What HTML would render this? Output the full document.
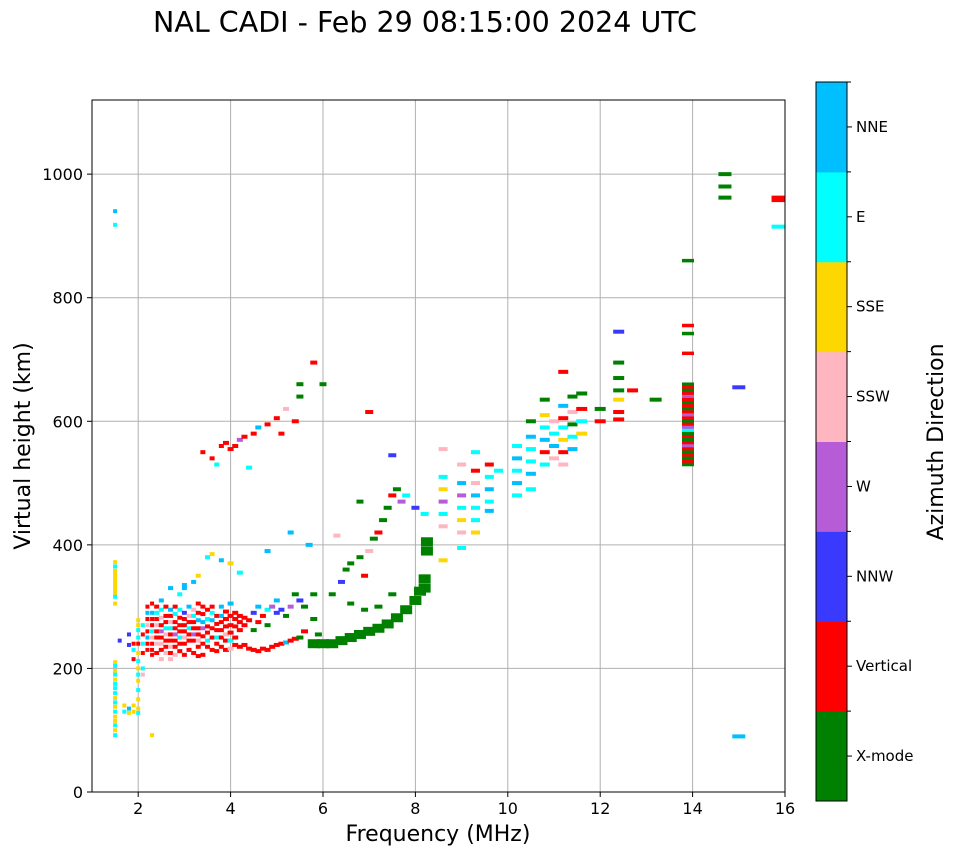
<!DOCTYPE html>
<html><head><meta charset="utf-8"><style>
body{margin:0;background:#fff;}
svg text{font-family:"DejaVu Sans","Liberation Sans",sans-serif;}
</style></head><body>
<svg id="chart" width="958" height="857" xmlns="http://www.w3.org/2000/svg">
<text x="425" y="32" font-size="28.5" text-anchor="middle">NAL CADI - Feb 29 08:15:00 2024 UTC</text>
<g id="grid"></g>
<g id="marks"></g>
<rect x="92" y="100" width="693" height="692" fill="none" stroke="#000" stroke-width="1"/>
<g id="axes"></g>
<text x="438" y="841" font-size="22" text-anchor="middle">Frequency (MHz)</text>
<text transform="translate(30,446) rotate(-90)" font-size="22" text-anchor="middle">Virtual height (km)</text>
<g id="cbar"></g>
<text transform="translate(943,442) rotate(-90)" font-size="22" text-anchor="middle">Azimuth Direction</text>
</svg>
<script>
const categories=["X-mode","Vertical","NNW","W","SSW","SSE","E","NNE"];
const catColors=["#008000","#ff0000","#3a3aff","#b65cd6","#ffb6c1","#ffd700","#00ffff","#00bfff"];
const xTicks=[2,4,6,8,10,12,14,16];
const yTicks=[0,200,400,600,800,1000];
// [freq MHz, height km, direction index, thick-trace flag]
const echoes=[
[1.5,940,7],[1.5,918,6],[1.5,372,5],[1.5,365,6],[1.5,358,5],[1.5,352,5],[1.5,346,5],[1.5,340,5],[1.5,334,5],[1.5,328,5],[1.5,322,5],[1.5,316,6],[1.5,305,5],
[1.5,210,5],[1.5,204,6],[1.5,196,5],[1.5,190,6],[1.5,182,5],[1.5,175,6],[1.5,168,6],[1.5,160,6],[1.5,152,5],[1.5,145,6],[1.5,138,5],[1.5,130,6],[1.5,122,5],[1.5,115,5],[1.5,108,6],[1.5,100,5],[1.5,92,6],
[1.6,245,2],[1.7,140,5],[1.7,130,6],[1.8,135,7],[1.8,128,5],[1.9,140,5],[1.9,130,5],[1.8,255,2],[1.8,238,2],[1.9,240,1],[1.9,230,6],[1.9,215,1],
[2.0,278,5],[2.0,270,5],[2.0,262,6],[2.0,250,6],[2.0,240,1],[2.0,225,5],[2.0,212,6],[2.0,200,5],[2.0,190,6],[2.0,180,5],[2.0,165,6],[2.0,150,5],[2.0,135,5],[2.0,128,6],
[2.1,270,6],[2.1,255,1],[2.1,240,6],[2.1,225,1],[2.1,190,4],[2.1,200,6],[2.3,92,5],
[2.2,300,1],[2.2,290,7],[2.2,280,1],[2.2,270,4],[2.2,260,1],[2.2,250,7],[2.2,240,1],[2.2,230,1],
[2.3,305,1],[2.3,290,7],[2.3,280,1],[2.3,270,1],[2.3,260,6],[2.3,250,4],[2.3,240,1],[2.3,230,1],[2.3,222,1],
[2.4,300,1],[2.4,290,6],[2.4,280,1],[2.4,270,4],[2.4,260,1],[2.4,250,1],[2.4,240,4],[2.4,225,1],
[2.5,310,7],[2.5,295,6],[2.5,282,4],[2.5,270,1],[2.5,260,3],[2.5,250,1],[2.5,240,4],[2.5,230,1],[2.5,215,4],
[2.6,300,1],[2.6,285,1],[2.6,275,1],[2.6,265,6],[2.6,255,4],[2.6,245,1],[2.6,235,1],[2.6,225,4],
[2.7,295,7],[2.7,285,1],[2.7,275,4],[2.7,265,6],[2.7,255,1],[2.7,245,1],[2.7,235,4],[2.7,225,1],[2.7,215,4],
[2.8,300,1],[2.8,288,6],[2.8,275,1],[2.8,265,1],[2.8,255,3],[2.8,245,1],[2.8,235,1],[2.8,222,4],
[2.9,295,6],[2.9,282,1],[2.9,270,1],[2.9,260,1],[2.9,250,6],[2.9,240,1],[2.9,228,1],
[3.0,330,7],[3.0,290,2],[3.0,280,1],[3.0,270,1],[3.0,260,1],[3.0,250,4],[3.0,240,1],[3.0,222,1],
[3.1,300,7],[3.1,285,4],[3.1,275,1],[3.1,265,6],[3.1,255,1],[3.1,245,1],[3.1,230,1],
[3.2,295,4],[3.2,285,6],[3.2,275,1],[3.2,265,1],[3.2,255,3],[3.2,245,1],[3.2,225,1],
[3.3,305,1],[3.3,290,1],[3.3,278,7],[3.3,265,1],[3.3,255,1],[3.3,245,4],[3.3,235,1],[3.3,220,1],
[3.4,300,1],[3.4,288,1],[3.4,275,7],[3.4,265,3],[3.4,252,1],[3.4,240,1],[3.4,222,1],
[3.5,295,1],[3.5,280,6],[3.5,268,1],[3.5,258,1],[3.5,245,6],[3.5,235,1],
[3.6,300,1],[3.6,290,6],[3.6,278,7],[3.6,265,1],[3.6,250,1],[3.6,230,1],
[3.7,285,1],[3.7,272,1],[3.7,262,1],[3.7,250,6],[3.7,240,1],[3.7,228,1],
[3.8,300,7],[3.8,285,7],[3.8,275,1],[3.8,262,1],[3.8,250,1],[3.8,235,1],
[3.9,292,1],[3.9,280,1],[3.9,268,1],[3.9,255,4],[3.9,245,1],[3.9,230,1],
[4.0,305,7],[4.0,285,1],[4.0,270,1],[4.0,258,1],[4.0,245,6],[4.0,232,4],
[4.1,290,1],[4.1,280,1],[4.1,268,1],[4.1,250,1],[4.1,238,1],[4.2,285,1],[4.2,275,1],[4.2,262,1],[4.2,235,1],[4.3,282,1],[4.3,270,1],[4.3,238,1],[4.4,278,1],[4.4,232,1],
[4.5,290,2],[4.5,262,0],[4.5,230,1],[4.6,300,7],[4.6,275,1],[4.6,228,1],[4.7,285,1],[4.7,232,1],[4.8,295,6],[4.8,270,0],[4.8,230,1],[4.9,300,3],[4.9,235,1],
[5.0,310,7],[5.0,290,2],[5.0,238,1],[5.1,295,2],[5.1,240,1],[5.2,285,0],[5.2,242,7],[5.3,300,3],[5.3,245,1],
[5.4,320,0],[5.4,248,1],[5.5,310,2],[5.5,250,0],[5.6,300,0],[5.6,260,1],[5.8,320,0],[5.8,280,0],[5.9,255,0],
[3.0,335,7],[3.2,340,7],[3.3,350,5],[3.5,380,6],[3.6,385,5],[3.8,375,7],[4.0,370,5],[4.2,355,6],[2.7,330,7],[2.9,320,6],
[3.4,550,1],[3.6,540,1],[3.7,530,6],[3.8,560,1],[3.9,565,1],[4.0,555,1],[4.1,560,1],[4.2,570,3],[4.3,575,1],[4.4,525,6],[4.5,580,1],[4.6,590,7],[4.8,595,1],[5.0,605,1],[5.1,580,1],[5.2,620,4],[5.4,600,1],[5.5,640,0],[5.5,660,0],[5.8,695,1],[6.0,660,0],[5.3,420,7],[5.7,400,7],[4.8,390,7],
[5.8,240,0,1],[6.0,240,0,1],[6.2,240,0,1],[6.4,245,0,1],[6.6,250,0,1],[6.8,255,0,1],[7.0,260,0,1],[7.2,265,0,1],[7.4,272,0,1],[7.6,282,0,1],[7.8,295,0,1],[8.0,310,0,1],[8.1,325,0,1],[8.2,345,0,1],[8.2,330,0,1],[8.25,390,0,1],[8.25,405,0,1],
[6.2,320,0],[6.4,340,2],[6.5,360,0],[6.6,370,0],[6.8,380,0],[6.9,350,1],[7.0,390,4],[7.1,410,0],[7.2,420,1],[7.3,440,0],[7.4,460,0],[7.5,480,1],[7.6,490,0],[7.7,470,3],[7.8,480,6],[8.0,460,2],[8.2,450,6],[6.8,470,0],[7.0,615,1],[7.5,545,2],[6.6,305,0],[6.9,295,0],[7.2,300,0],[7.5,320,0],[6.3,415,4],
[8.6,555,4],[8.6,510,6],[8.6,490,5],[8.6,470,3],[8.6,450,6],[8.6,430,4],[8.6,375,5],[9.0,530,4],[9.0,500,7],[9.0,480,3],[9.0,460,6],[9.0,440,5],[9.0,420,4],[9.0,395,6],[9.3,550,6],[9.3,520,1],[9.3,500,4],[9.3,480,7],[9.3,460,6],[9.3,440,6],[9.3,420,5],
[9.6,530,1],[9.6,510,6],[9.6,490,7],[9.6,470,6],[9.6,455,7],[9.8,520,6],[10.2,560,6],[10.2,540,7],[10.2,520,6],[10.2,500,7],[10.2,480,6],[10.5,600,0],[10.5,575,7],[10.5,555,6],[10.5,535,6],[10.5,515,7],[10.5,490,6],
[10.8,635,0],[10.8,610,5],[10.8,590,6],[10.8,570,7],[10.8,550,1],[10.8,530,6],[11.0,600,4],[11.0,580,6],[11.0,560,7],[11.0,540,4],[11.2,680,1],[11.2,625,7],[11.2,605,1],[11.2,590,6],[11.2,570,5],[11.2,550,1],[11.2,530,4],
[11.4,640,0],[11.4,615,4],[11.4,595,0],[11.4,575,6],[11.4,555,7],[11.6,645,0],[11.6,620,1],[11.6,600,6],[11.6,580,5],[12.0,620,0],[12.0,600,1],[12.4,745,2],[12.4,695,0],[12.4,670,0],[12.4,650,0],[12.4,635,5],[12.4,615,1],[12.4,603,1],[12.7,650,1],[13.2,635,0],
[13.9,860,0],[13.9,755,1],[13.9,742,0],[13.9,710,1],
[13.9,660,0],[13.9,655,1],[13.9,650,0],[13.9,645,1],[13.9,640,3],[13.9,635,1],[13.9,630,0],[13.9,625,1],[13.9,620,0],[13.9,615,1],[13.9,610,3],[13.9,605,1],[13.9,600,0],[13.9,595,1],[13.9,590,3],[13.9,585,6],[13.9,580,0],[13.9,575,1],[13.9,570,0],[13.9,565,1],[13.9,560,3],[13.9,555,1],[13.9,550,0],[13.9,545,1],[13.9,540,0],[13.9,535,1],[13.9,530,0],
[14.7,1000,0],[14.7,980,0],[14.7,962,0],[15.0,655,2],[15.0,90,7],[15.85,962,1],[15.85,958,1],[15.85,915,6]
];
const NS="http://www.w3.org/2000/svg";
const X0=92,X1=785,Y0=792,Y1=100;
const xScale=f=>X0+(f-1)/15*(X1-X0);
const yScale=h=>Y0-h/1120*(Y0-Y1);
function mk(tag,attrs,parent){const e=document.createElementNS(NS,tag);for(const k in attrs)e.setAttribute(k,attrs[k]);parent.appendChild(e);return e;}
const grid=document.getElementById('grid'),axes=document.getElementById('axes'),marks=document.getElementById('marks'),cbar=document.getElementById('cbar');
xTicks.forEach(t=>{const x=xScale(t);
 const g=mk('line',{x1:x,x2:x,y1:Y1,y2:Y0,stroke:'#b0b0b0','stroke-width':1},grid);
 
 
 mk('line',{x1:x,x2:x,y1:Y0,y2:Y0+5,stroke:'#000'},axes);
 const tx=mk('text',{x:x,y:Y0+22,'font-size':16,'text-anchor':'middle'},axes);tx.textContent=t;
 
 
});
yTicks.forEach(t=>{const y=yScale(t);
 const g=mk('line',{x1:X0,x2:X1,y1:y,y2:y,stroke:'#b0b0b0','stroke-width':1},grid);
 
 
 mk('line',{x1:X0-5,x2:X0,y1:y,y2:y,stroke:'#000'},axes);
 const tx=mk('text',{x:X0-9,y:y+6,'font-size':16,'text-anchor':'end'},axes);tx.textContent=t;
 
 
});
echoes.forEach(p=>{const big=p[3]===1;
 const w=big?12:Math.round(3+0.65*p[0]),h=big?9:(p[0]>13.5&&p[0]<14.2?3.5:4);
 const r=mk('rect',{x:xScale(p[0])-w/2,y:yScale(p[1])-h/2,width:w,height:h,fill:catColors[p[2]]},marks);
 
 
});
const CX=816,CW=31,CT=82,CB=801,seg=(CB-CT)/categories.length;
categories.forEach((c,i)=>{const y=CB-(i+1)*seg;
 const r=mk('rect',{x:CX,y:y,width:CW,height:seg+0.5,fill:catColors[i]},cbar);
 
 
 mk('line',{x1:CX+CW,x2:CX+CW+5,y1:y+seg/2,y2:y+seg/2,stroke:'#000'},cbar);
 mk('line',{x1:CX+CW,x2:CX+CW+4,y1:y,y2:y,stroke:'#000'},cbar);
 const t=mk('text',{x:CX+CW+9,y:y+seg/2+5,'font-size':15},cbar);t.textContent=c;
 
 
});
mk('rect',{x:CX,y:CT,width:CW,height:CB-CT,fill:'none',stroke:'#000'},cbar);
</script>
</body></html>
